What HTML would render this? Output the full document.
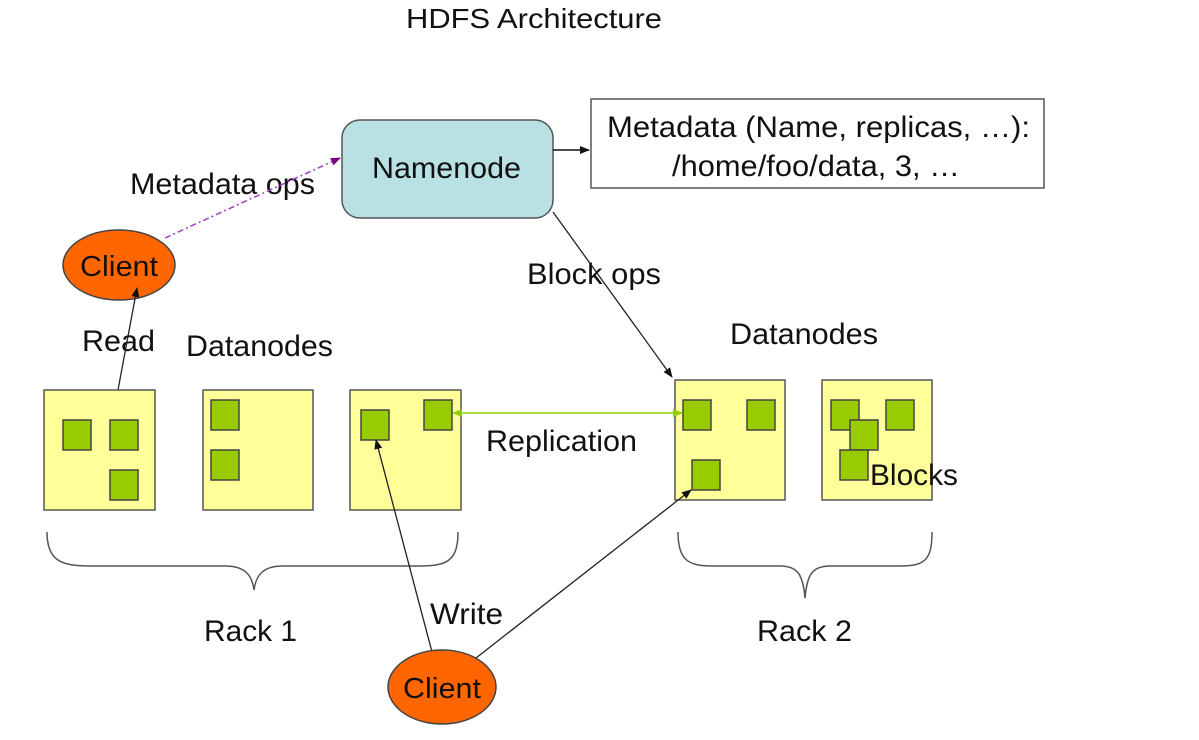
<!DOCTYPE html>
<html><head><meta charset="utf-8"><style>html,body{margin:0;padding:0;background:#fff}svg{display:block}text{font-family:"Liberation Sans",Arial,sans-serif;fill:#111}</style></head><body>
<svg width="1199" height="740" viewBox="0 0 1199 740" xmlns="http://www.w3.org/2000/svg">
<defs>
<marker id="ab" markerWidth="10" markerHeight="10" refX="9" refY="5" orient="auto" markerUnits="userSpaceOnUse"><path d="M0,1 L10,5 L0,9 z" fill="#111"/></marker>
<marker id="ap" markerWidth="10" markerHeight="10" refX="9" refY="5" orient="auto" markerUnits="userSpaceOnUse"><path d="M0,1 L10,5 L0,9 z" fill="#800080"/></marker>
<marker id="ag" markerWidth="10" markerHeight="10" refX="9" refY="5" orient="auto" markerUnits="userSpaceOnUse"><path d="M0,1 L10,5 L0,9 z" fill="#8fd000"/></marker>
<marker id="ags" markerWidth="10" markerHeight="10" refX="1" refY="5" orient="auto" markerUnits="userSpaceOnUse"><path d="M10,1 L0,5 L10,9 z" fill="#8fd000"/></marker>
</defs>
<text x="406" y="28" font-size="28" textLength="256" lengthAdjust="spacingAndGlyphs">HDFS Architecture</text>
<rect x="591" y="99" width="453" height="89" fill="#fff" stroke="#555" stroke-width="1.5"/>
<text x="607" y="137" font-size="30" textLength="423" lengthAdjust="spacingAndGlyphs">Metadata (Name, replicas, …):</text>
<text x="672" y="176" font-size="30" textLength="288" lengthAdjust="spacingAndGlyphs">/home/foo/data, 3, …</text>
<rect x="342" y="120" width="211" height="98" rx="18" fill="#b9e0e3" stroke="#555" stroke-width="1.5"/>
<text x="372" y="178" font-size="30" textLength="149" lengthAdjust="spacingAndGlyphs">Namenode</text>
<line x1="553" y1="150" x2="589" y2="150" stroke="#111" stroke-width="1.5" marker-end="url(#ab)"/>
<text x="130" y="194" font-size="30" textLength="185" lengthAdjust="spacingAndGlyphs">Metadata ops</text>
<line x1="165" y1="238" x2="340" y2="158" stroke="#a040c0" stroke-width="1.5" stroke-dasharray="6,3,2,3" marker-end="url(#ap)"/>
<ellipse cx="119" cy="265" rx="56" ry="35" fill="#ff6600" stroke="#444" stroke-width="1.5"/>
<text x="80" y="276" font-size="29" textLength="78" lengthAdjust="spacingAndGlyphs">Client</text>
<text x="82" y="351" font-size="30" textLength="73" lengthAdjust="spacingAndGlyphs">Read</text>
<text x="186" y="356" font-size="30" textLength="147" lengthAdjust="spacingAndGlyphs">Datanodes</text>
<line x1="118" y1="390" x2="137" y2="288" stroke="#222" stroke-width="1.3" marker-end="url(#ab)"/>
<text x="527" y="284" font-size="30" textLength="134" lengthAdjust="spacingAndGlyphs">Block ops</text>
<line x1="553" y1="212" x2="672" y2="377" stroke="#222" stroke-width="1.3" marker-end="url(#ab)"/>
<text x="730" y="344" font-size="30" textLength="148" lengthAdjust="spacingAndGlyphs">Datanodes</text>
<g fill="#ffff99" stroke="#555" stroke-width="1.5">
<rect x="44" y="390" width="111" height="120"/>
<rect x="203" y="390" width="110" height="120"/>
<rect x="350" y="390" width="111" height="120"/>
<rect x="675" y="380" width="110" height="120"/>
<rect x="822" y="380" width="110" height="120"/>
</g>
<g fill="#99cc00" stroke="#444" stroke-width="1.5">
<rect x="63" y="420" width="28" height="30"/><rect x="110" y="420" width="28" height="30"/><rect x="110" y="470" width="28" height="30"/>
<rect x="211" y="400" width="28" height="30"/><rect x="211" y="450" width="28" height="30"/>
<rect x="361" y="410" width="28" height="30"/><rect x="424" y="400" width="28" height="30"/>
<rect x="683" y="400" width="28" height="30"/><rect x="747" y="400" width="28" height="30"/><rect x="692" y="460" width="28" height="30"/>
<rect x="831" y="400" width="28" height="30"/><rect x="886" y="400" width="28" height="30"/><rect x="850" y="420" width="28" height="30"/><rect x="840" y="450" width="28" height="30"/>
</g>
<text x="870" y="485" font-size="30" textLength="88" lengthAdjust="spacingAndGlyphs">Blocks</text>
<line x1="453" y1="413" x2="682" y2="413" stroke="#8fd000" stroke-width="1.5" marker-start="url(#ags)" marker-end="url(#ag)"/>
<text x="486" y="451" font-size="30" textLength="151" lengthAdjust="spacingAndGlyphs">Replication</text>
<path d="M47,532 C47,560 60,566 90,566 L225,566 C245,566 252,575 254,590 C256,575 263,566 283,566 L420,566 C448,566 458,560 458,532" fill="none" stroke="#555" stroke-width="1.5"/>
<path d="M678,532 C678,560 688,566 712,566 L780,566 C798,566 803,575 805,598 C807,575 812,566 830,566 L900,566 C925,566 932,560 932,532" fill="none" stroke="#555" stroke-width="1.5"/>
<text x="204" y="641" font-size="30" textLength="93" lengthAdjust="spacingAndGlyphs">Rack 1</text>
<text x="757" y="641" font-size="30" textLength="95" lengthAdjust="spacingAndGlyphs">Rack 2</text>
<text x="430" y="624" font-size="30" textLength="73" lengthAdjust="spacingAndGlyphs">Write</text>
<line x1="432" y1="652" x2="376" y2="440" stroke="#222" stroke-width="1.3" marker-end="url(#ab)"/>
<line x1="476" y1="658" x2="691" y2="490" stroke="#222" stroke-width="1.3" marker-end="url(#ab)"/>
<ellipse cx="442" cy="687" rx="54" ry="37" fill="#ff6600" stroke="#444" stroke-width="1.5"/>
<text x="403" y="698" font-size="29" textLength="78" lengthAdjust="spacingAndGlyphs">Client</text>
</svg>
</body></html>
